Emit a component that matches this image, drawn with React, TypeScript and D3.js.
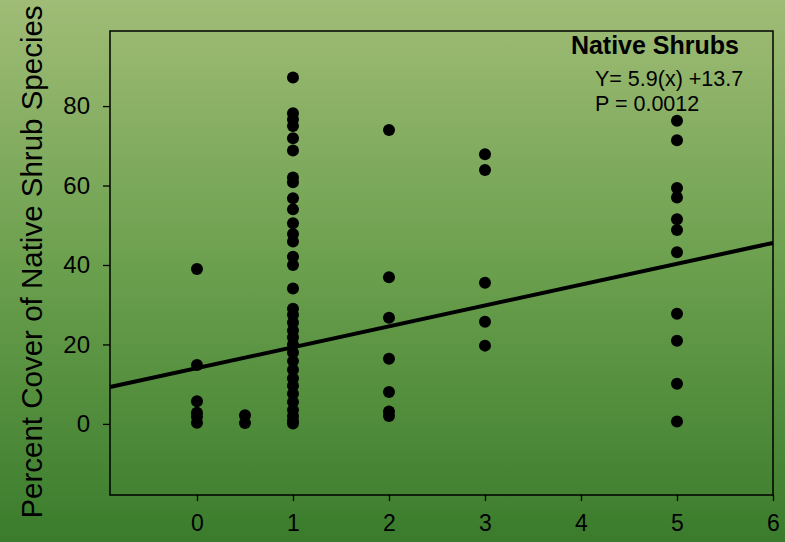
import React, { useEffect, useRef } from 'react';
import * as d3 from 'd3';

// density (x) and percent cover (y) per point
const xs0 = [0, 0, 0, 0, 0, 0];
const ys0 = [39, 14.8, 5.7, 2.8, 1.8, 0.3];
const xsHalf = [0.5, 0.5];
const ysHalf = [2.2, 0.2];
const ys1 = [
  87.2, 78.2, 76.6, 75.0, 71.9, 68.8, 62.0, 60.8, 56.8, 54.0, 50.5, 47.8, 45.9,
  42.1, 40.0, 34.1, 29.0, 27.5, 25.5, 23.5, 21.8, 20.0, 18.0, 15.8, 13.6, 11.5,
  9.6, 7.6, 5.5, 3.5, 2.0, 0.8, 0.1,
];
const ys2 = [74.0, 36.9, 26.7, 16.4, 8.0, 3.1, 2.0];
const ys3 = [67.9, 63.9, 35.5, 25.7, 19.7];
const ys5 = [76.3, 71.4, 59.4, 57.0, 51.5, 48.8, 43.2, 27.7, 20.9, 10.1, 0.6];

const xTicks = [0, 1, 2, 3, 4, 5, 6];
const yTicks = [0, 20, 40, 60, 80];

// regression line as drawn on the figure
const fitIntercept = 14.05;
const fitSlope = 5.25;

const title = 'Native Shrubs';
const equation = 'Y= 5.9(x) +13.7';
const pValue = 'P = 0.0012';
const yLabel = 'Percent Cover of Native Shrub Species';

export default function App() {
  const svgRef = useRef<SVGSVGElement>(null);

  useEffect(() => {
    if (!svgRef.current) return;
    const svg = d3.select(svgRef.current);
    svg.selectAll('*').remove();

    const width = 785;
    const height = 542;
    const margin = { top: 31, right: 12, bottom: 47, left: 110 };
    const font = '"Liberation Sans", Arial, sans-serif';

    const points: [number, number][] = [
      ...ys0.map((y, i) => [xs0[i], y] as [number, number]),
      ...ysHalf.map((y, i) => [xsHalf[i], y] as [number, number]),
      ...ys1.map((y) => [1, y] as [number, number]),
      ...ys2.map((y) => [2, y] as [number, number]),
      ...ys3.map((y) => [3, y] as [number, number]),
      ...ys5.map((y) => [5, y] as [number, number]),
    ];

    const x = d3.scaleLinear().domain([-0.906, 6]).range([margin.left, width - margin.right]);
    const y = d3.scaleLinear().domain([-17.9, 98.9]).range([height - margin.bottom, margin.top]);

    // background gradient
    const defs = svg.append('defs');
    const grad = defs.append('linearGradient')
      .attr('id', 'bg')
      .attr('x1', 0).attr('y1', 0).attr('x2', 0).attr('y2', 1);
    grad.append('stop').attr('offset', '0%').attr('stop-color', '#a0bc76');
    grad.append('stop').attr('offset', '50%').attr('stop-color', '#6a9f4d');
    grad.append('stop').attr('offset', '100%').attr('stop-color', '#3a7c2c');
    svg.append('rect')
      .attr('width', width).attr('height', height)
      .attr('fill', 'url(#bg)');

    // frame
    svg.append('rect')
      .attr('x', x.range()[0]).attr('y', y.range()[1])
      .attr('width', x.range()[1] - x.range()[0])
      .attr('height', y.range()[0] - y.range()[1])
      .attr('fill', 'none')
      .attr('stroke', '#000')
      .attr('stroke-width', 1.5);

    // x axis
    const xAxis = svg.append('g')
      .attr('transform', `translate(0,${y.range()[0]})`)
      .call(d3.axisBottom(x).tickValues(xTicks).tickSize(6).tickPadding(14).tickFormat(d3.format('d')));
    xAxis.select('.domain').remove();
    xAxis.selectAll('line').attr('stroke', '#000').attr('stroke-width', 1.3);
    xAxis.selectAll('text')
      .attr('fill', '#000')
      .style('font-family', font)
      .style('font-size', '23px');

    // y axis
    const yAxis = svg.append('g')
      .attr('transform', `translate(${x.range()[0]},0)`)
      .call(d3.axisLeft(y).tickValues(yTicks).tickSize(7).tickPadding(13).tickFormat(d3.format('d')));
    yAxis.select('.domain').remove();
    yAxis.selectAll('line').attr('stroke', '#000').attr('stroke-width', 1.3);
    yAxis.selectAll('text')
      .attr('fill', '#000')
      .style('font-family', font)
      .style('font-size', '24px');

    // y label
    svg.append('text')
      .attr('transform', `translate(42,${262}) rotate(-90)`)
      .attr('text-anchor', 'middle')
      .style('font-family', font)
      .style('font-size', '29.5px')
      .attr('fill', '#000')
      .text(yLabel);

    // regression line
    const [x0, x1] = x.domain();
    svg.append('line')
      .attr('x1', x(x0)).attr('y1', y(fitIntercept + fitSlope * x0))
      .attr('x2', x(x1)).attr('y2', y(fitIntercept + fitSlope * x1))
      .attr('stroke', '#000')
      .attr('stroke-width', 4);

    // points
    svg.append('g')
      .selectAll('circle')
      .data(points)
      .enter().append('circle')
      .attr('cx', (d) => x(d[0]))
      .attr('cy', (d) => y(d[1]))
      .attr('r', 6)
      .attr('fill', '#000');

    // annotation
    svg.append('text')
      .attr('x', 739).attr('y', 54)
      .attr('text-anchor', 'end')
      .style('font-family', font)
      .style('font-size', '25px')
      .style('font-weight', 'bold')
      .attr('fill', '#000')
      .text(title);
    svg.append('text')
      .attr('x', 595).attr('y', 86)
      .style('font-family', font)
      .style('font-size', '21.5px')
      .attr('fill', '#000')
      .text(equation);
    svg.append('text')
      .attr('x', 595).attr('y', 111)
      .style('font-family', font)
      .style('font-size', '21.5px')
      .attr('fill', '#000')
      .text(pValue);
  }, []);

  return (
    <div style={{ position: 'absolute', left: 0, top: 0 }}>
      <svg ref={svgRef} width={785} height={542} style={{ display: 'block' }}></svg>
    </div>
  );
}
